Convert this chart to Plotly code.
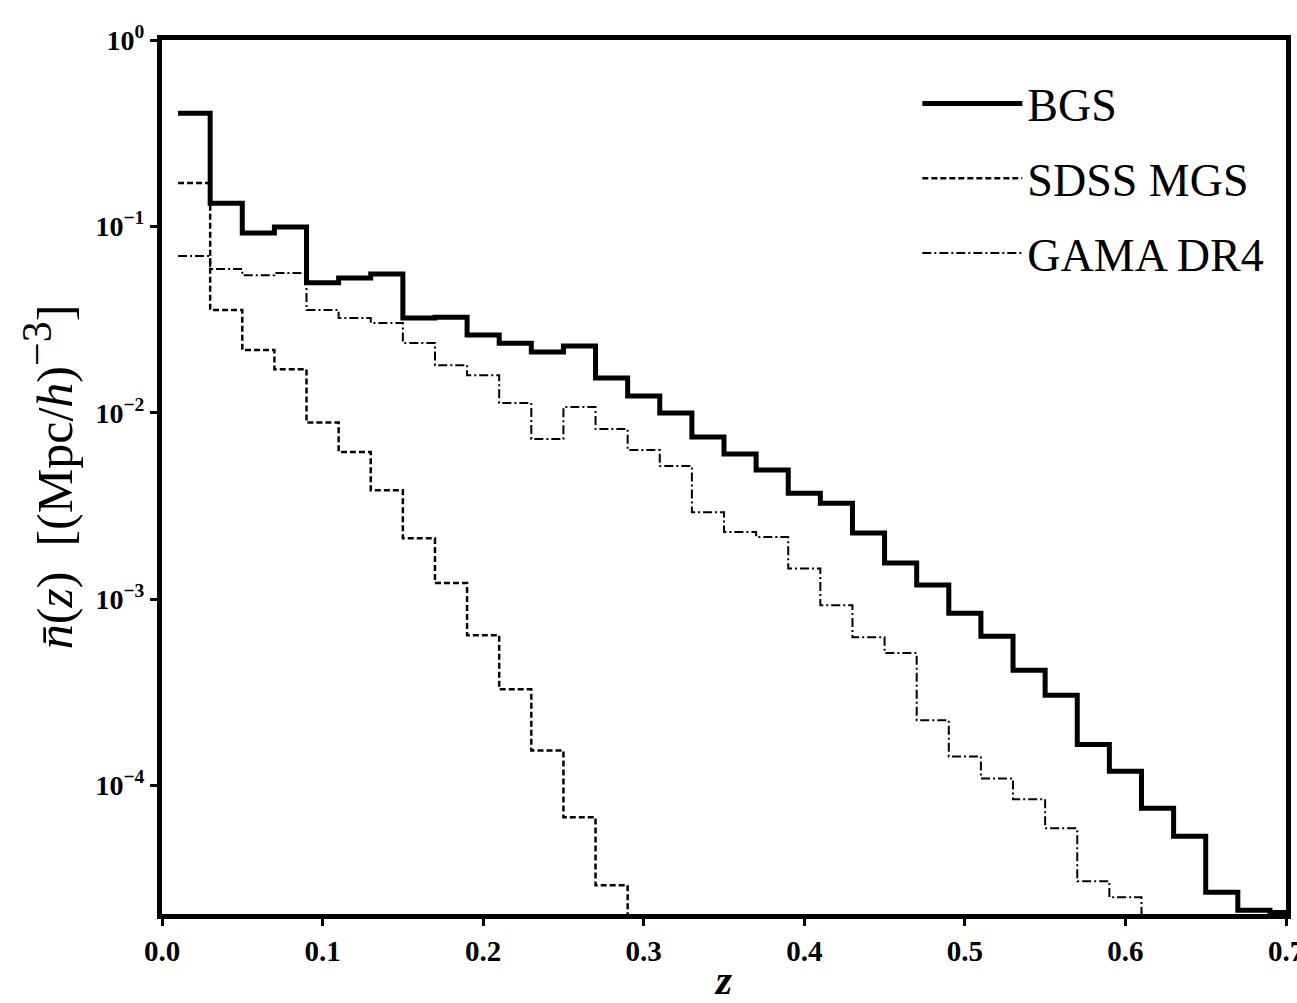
import plotly.graph_objects as go

# Redshift bin edges (width 0.02, starting at z = 0.01)
z_start = 0.01
z_width = 0.02

# Mean number density per bin, [(Mpc/h)^-3]
bgs = [0.405, 0.133, 0.0921, 0.0993, 0.0498, 0.0529, 0.0555, 0.0322, 0.0325,
       0.0261, 0.0236, 0.0212, 0.0228, 0.01534, 0.01228, 0.00995, 0.00740,
       0.00600, 0.00492, 0.00370, 0.00327, 0.00226, 0.00156, 0.00119,
       0.000840, 0.000632, 0.000415, 0.000305, 0.000166, 0.000119,
       0.0000755, 0.0000534, 0.0000267, 0.0000214, 0.0000208]
sdss_mgs = [0.171, 0.0356, 0.0217, 0.0171, 0.00885, 0.00615, 0.00384, 0.00212,
            0.00122, 0.000640, 0.000328, 0.000154, 0.0000675, 0.0000291]
gama_dr4 = [0.0693, 0.0590, 0.0546, 0.0562, 0.0356, 0.0322, 0.0303, 0.02364,
            0.0180, 0.0159, 0.01127, 0.00722, 0.01072, 0.00817, 0.00630,
            0.00517, 0.00292, 0.00229, 0.00215, 0.00146, 0.000927, 0.000624,
            0.000513, 0.000224, 0.000143, 0.000109, 0.0000843, 0.0000589,
            0.0000306, 0.0000251]

y_tick_vals = [1e-4, 1e-3, 1e-2, 1e-1, 1e0]
y_tick_text = ["10<sup>−4</sup>", "10<sup>−3</sup>", "10<sup>−2</sup>",
               "10<sup>−1</sup>", "10<sup>0</sup>"]
x_tick_vals = [0.0, 0.1, 0.2, 0.3, 0.4, 0.5, 0.6, 0.7]
x_tick_text = ["0.0", "0.1", "0.2", "0.3", "0.4", "0.5", "0.6", "0.7"]

FLOOR = 1e-7  # below the visible range: makes each histogram drop to the axis


def step_xy(values, drop=True):
    xs = [round(z_start + i * z_width, 4) for i in range(len(values) + 1)]
    ys = list(values) + [FLOOR if drop else values[-1]]
    return xs, ys


SERIF = "Liberation Serif, Times New Roman, serif"

fig = go.Figure()

x, y = step_xy(bgs, drop=False)
fig.add_trace(go.Scatter(x=x, y=y, mode="lines", line_shape="hv", name="BGS",
                         legendgroup="bgs",
                         line=dict(color="black", width=5)))
x, y = step_xy(sdss_mgs)
fig.add_trace(go.Scatter(x=x, y=y, mode="lines", line_shape="hv", name="SDSS MGS",
                         legendgroup="sdss",
                         line=dict(color="black", width=2.5, dash="6px,3px")))
x, y = step_xy(gama_dr4)
fig.add_trace(go.Scatter(x=x, y=y, mode="lines", line_shape="hv", name="GAMA DR4",
                         legendgroup="gama",
                         line=dict(color="black", width=2, dash="9px,3px,2px,3px")))

fig.update_layout(
    width=1297, height=1003,
    margin=dict(l=162, r=11, t=40, b=89, autoexpand=False),
    paper_bgcolor="white", plot_bgcolor="white",
    font=dict(family=SERIF, color="black"),
    showlegend=True,
    legend=dict(x=0.672, y=0.969, xanchor="left", yanchor="top",
                bgcolor="rgba(0,0,0,0)", borderwidth=0,
                font=dict(family=SERIF, size=46, color="black"),
                itemwidth=100, tracegroupgap=12),
)

fig.update_xaxes(
    range=[0.0, 0.7],
    tickmode="array", tickvals=x_tick_vals, ticktext=x_tick_text,
    ticks="outside", ticklen=7, tickwidth=3, tickcolor="black",
    ticklabeloverflow="allow",
    tickfont=dict(family=SERIF, size=29, color="black", weight="bold"),
    showline=True, linewidth=5, linecolor="black", mirror=True,
    showgrid=False, zeroline=False,
    title=dict(text="<b><i>z</i></b>", font=dict(family=SERIF, size=42, color="black"),
               standoff=4),
)

fig.update_yaxes(
    type="log", range=[-4.69, 0.0],
    tickmode="array", tickvals=y_tick_vals, ticktext=y_tick_text,
    ticks="outside", ticklen=7, tickwidth=3, tickcolor="black",
    tickfont=dict(family=SERIF, size=28, color="black", weight="bold"),
    showline=True, linewidth=5, linecolor="black", mirror=True,
    showgrid=False, zeroline=False,
    title=dict(text="<i>n\u0304</i>(<i>z</i>)  [(Mpc/<i>h</i>)"
                    "<sup><span style=\"font-size:42px\">−3</span></sup>]",
               font=dict(family=SERIF, size=50, color="black"), standoff=8),
)

fig.write_html("out.html")
